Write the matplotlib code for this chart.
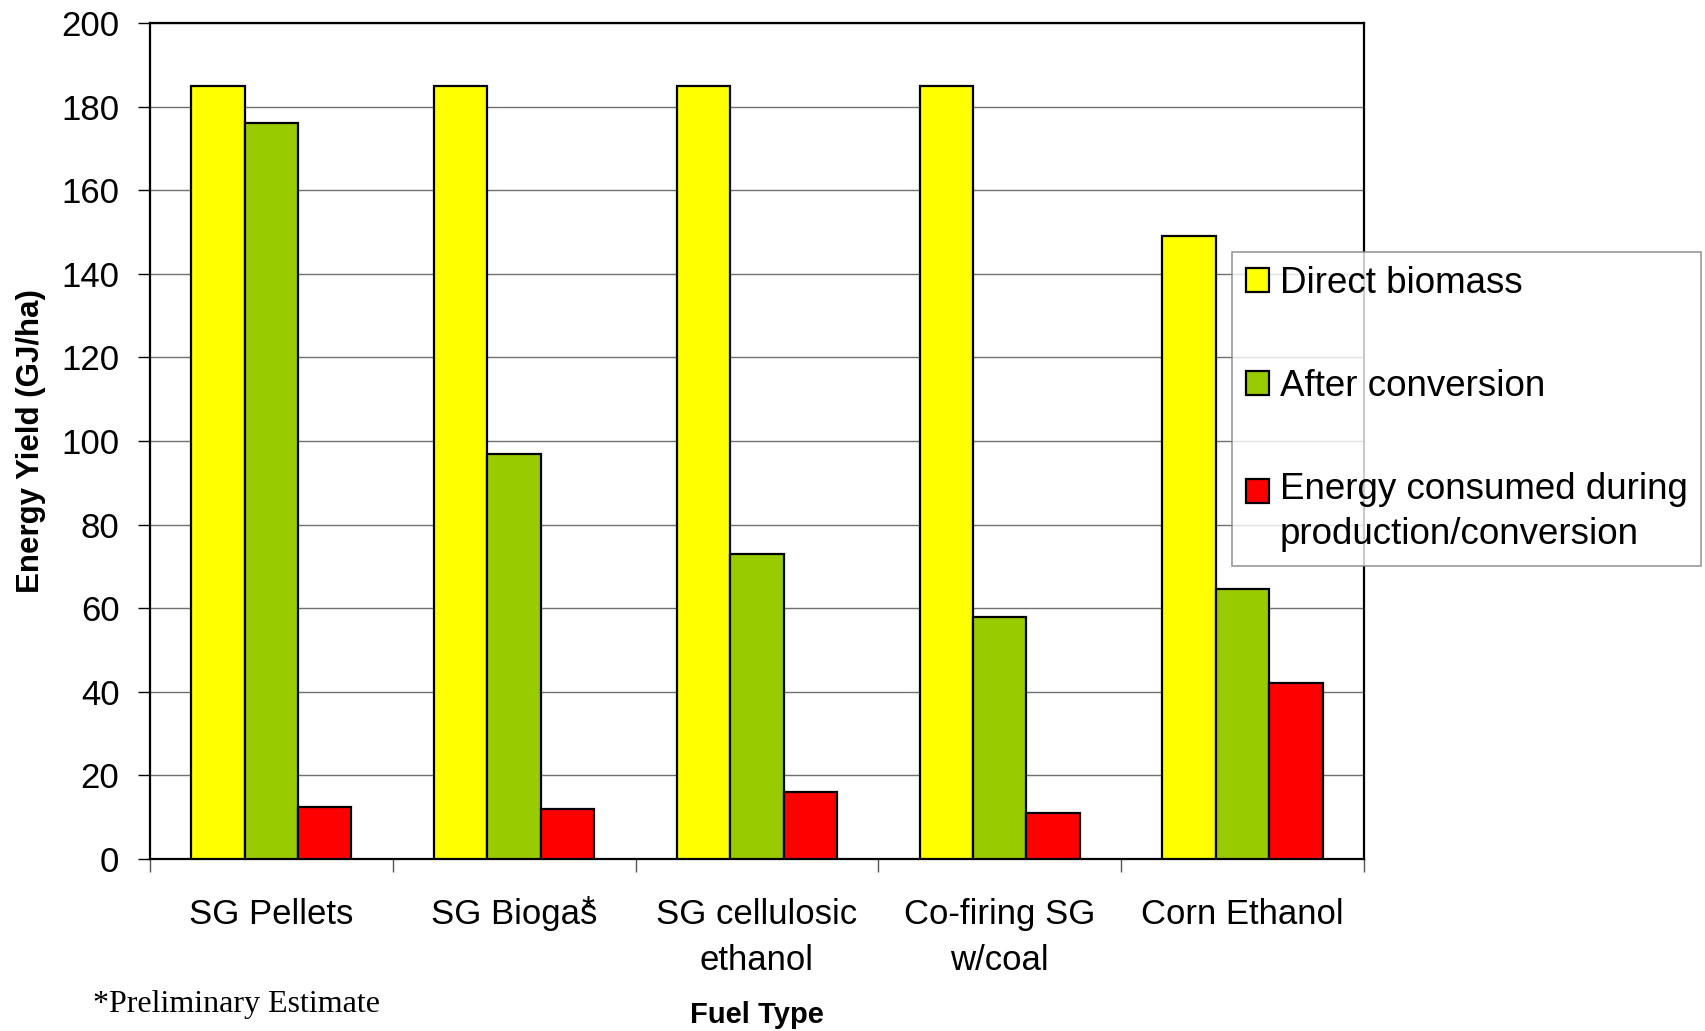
import matplotlib
matplotlib.use("Agg")
import matplotlib.pyplot as plt
import numpy as np

plt.rcParams['font.family'] = ['Liberation Sans', 'DejaVu Sans']

fuel_types = ["SG Pellets", "SG Biogas", "SG cellulosic\nethanol", "Co-firing SG\nw/coal", "Corn Ethanol"]
direct_biomass = [185, 185, 185, 185, 149]
after_conversion = [176, 97, 73, 58, 64.5]
energy_consumed = [12.5, 12, 16, 11, 42]

series_names = ["Direct biomass", "After conversion", "Energy consumed during\nproduction/conversion"]
series_colors = ["#FFFF00", "#99CC00", "#FF0000"]

fig = plt.figure(figsize=(17.06, 10.31), dpi=100)
ax = fig.add_axes([0.0879, 0.1668, 0.7116, 0.8109])

x = np.arange(len(fuel_types))
w = 0.22
for i, (vals, name, col) in enumerate(zip([direct_biomass, after_conversion, energy_consumed],
                                          series_names, series_colors)):
    ax.bar(x + (i - 1) * w, vals, w, color=col, edgecolor='black', linewidth=1.6,
           label=name, zorder=3)

ax.set_xlim(-0.5, len(fuel_types) - 0.5)
ax.set_ylim(0, 200)
ax.set_yticks(np.arange(0, 201, 20))
ax.yaxis.grid(True, color='#707070', linewidth=1.0, zorder=0)

for s in ax.spines.values():
    s.set_linewidth(1.6)
    s.set_color('black')

ax.tick_params(axis='y', labelsize=25, length=9, width=1, direction='out', pad=13)
ax.set_xticks(x)
ax.set_xticklabels(fuel_types)
ax.tick_params(axis='x', which='major', labelsize=25, length=0, pad=28)
ax.set_xticks(np.arange(-0.5, len(fuel_types)), minor=True)
ax.tick_params(axis='x', which='minor', length=9.5, width=1, color='#555555')
plt.setp(ax.get_xticklabels(), linespacing=1.5)

# footnote marker on the biogas label
ax.text(1.305, -0.071, "*", transform=ax.get_xaxis_transform(), fontsize=24,
        ha='center', va='baseline')

ax.set_ylabel("Energy Yield (GJ/ha)", fontsize=22.5, fontweight='bold', va='center', ha='center')
ax.yaxis.set_label_coords(-0.098, 0.5)
ax.set_xlabel("Fuel Type", fontsize=21, fontweight='bold', va='baseline')
ax.xaxis.set_label_coords(0.5, -0.196)

fig.text(0.0545, 0.0184, "*Preliminary Estimate", fontsize=23, family='Liberation Serif',
         va='baseline', ha='left')

fs = 26.5
ls = 1.35
leg = ax.legend(loc='upper left', bbox_to_anchor=(0.7222, 0.7556), bbox_transform=fig.transFigure,
                borderaxespad=0, fontsize=fs, fancybox=False, frameon=True,
                edgecolor='#808080', handlelength=0.63, handleheight=0.63,
                handletextpad=0.28, labelspacing=1.85, borderpad=0.38)
leg.get_frame().set_linewidth(1.2)
for t in leg.get_texts():
    t.set_linespacing(ls)

# put the two-line entry's swatch next to its first line
red = leg.legend_handles[2]
red.set_y(red.get_y() + 0.5 * ls * 0.854 * fs)

fig.savefig("out.png", dpi=100)
